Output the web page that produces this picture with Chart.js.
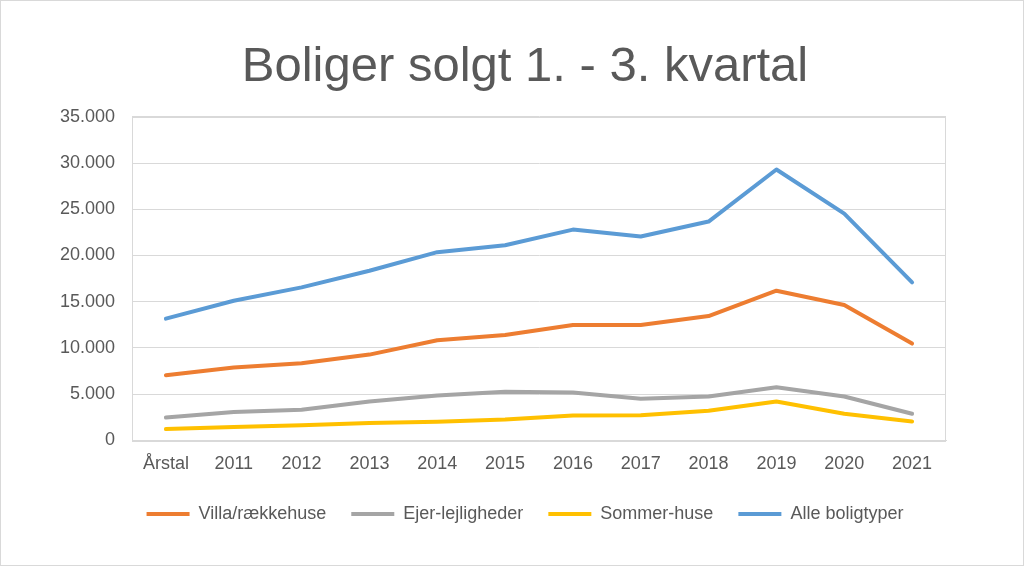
<!DOCTYPE html>
<html>
<head>
<meta charset="utf-8">
<script src="https://cdn.jsdelivr.net/npm/chart.js@4/dist/chart.umd.min.js"></script>
<style>
html,body{margin:0;padding:0;background:#fff;}
#wrap{width:1024px;height:566px;box-sizing:border-box;border:1px solid #d9d9d9;position:relative;}
canvas{display:block;}
</style>
</head>
<body>
<div id="wrap"><canvas id="c" width="1022" height="564"></canvas></div>
<script>
const categories = ['Årstal','2011','2012','2013','2014','2015','2016','2017','2018','2019','2020','2021'];
const villa = [7050, 7880, 8350, 9280, 10830, 11400, 12480, 12480, 13450, 16190, 14640, 10470];
const ejer = [2480, 3060, 3310, 4210, 4860, 5250, 5180, 4500, 4750, 5760, 4750, 2880];
const sommer = [1220, 1440, 1650, 1870, 2010, 2250, 2700, 2730, 3200, 4210, 2880, 2050];
const alle = [13170, 15100, 16550, 18350, 20360, 21100, 22800, 22050, 23670, 29300, 24530, 17090];
const seriesNames = ['Villa/rækkehuse','Ejer-lejligheder','Sommer-huse','Alle boligtyper'];
const seriesColors = ['#ED7D31','#A5A5A5','#FFC000','#5B9BD5'];
const yTicks = [0,5000,10000,15000,20000,25000,30000,35000];

const fmt = v => String(v).replace(/\B(?=(\d{3})+(?!\d))/g, '.');
const FONT = "'Liberation Sans', Arial, sans-serif";
const TXT = '#595959';

const frame = {
  id: 'frame',
  beforeDatasetsDraw(chart){
    const a = chart.chartArea, ctx = chart.ctx;
    ctx.save();
    ctx.strokeStyle = '#d9d9d9';
    ctx.lineWidth = 1;
    ctx.strokeRect(Math.round(a.left)+0.5, Math.round(a.top)+0.5, Math.round(a.right-a.left)-1, Math.round(a.bottom-a.top));
    ctx.restore();
  }
};

const data = [villa, ejer, sommer, alle];
new Chart(document.getElementById('c'), {
  type: 'line',
  data: {
    labels: categories,
    datasets: data.map((d,i)=>({
      label: seriesNames[i],
      data: d,
      borderColor: seriesColors[i],
      backgroundColor: seriesColors[i],
      borderWidth: 4,
      pointRadius: 0,
      tension: 0,
      borderJoinStyle: 'round',
      borderCapStyle: 'round',
      fill: false
    }))
  },
  options: {
    responsive: false,
    animation: false,
    layout: { padding: { left: 26, right: 0, top: 0, bottom: 32 } },
    plugins: {
      title: {
        display: true,
        text: 'Boliger solgt 1. - 3. kvartal',
        color: TXT,
        font: { family: FONT, size: 49, weight: 'normal' },
        padding: { top: 37, bottom: 20 }
      },
      legend: {
        position: 'bottom',
        labels: {
          color: TXT,
          font: { family: FONT, size: 18 },
          boxWidth: 43,
          boxHeight: 4,
          padding: 25,
          generateLabels(chart){
            const items = Chart.defaults.plugins.legend.labels.generateLabels(chart);
            items.forEach(it=>{ it.lineWidth = 0; it.fillStyle = it.strokeStyle; });
            return items;
          }
        }
      },
      tooltip: { enabled: false }
    },
    scales: {
      x: {
        offset: true,
        grid: { display: false, drawTicks: false },
        border: { display: true, color: '#d9d9d9' },
        ticks: { color: TXT, font: { family: FONT, size: 18 }, padding: 13, maxRotation: 0 },
        afterFit(scale){ scale.height -= 8; }
      },
      y: {
        min: 0, max: 35000,
        afterBuildTicks(scale){ scale.ticks = yTicks.map(v=>({value:v})); },
        grid: { color: '#d9d9d9', drawTicks: false, lineWidth: 1 },
        border: { display: true, color: '#d9d9d9' },
        ticks: { color: TXT, font: { family: FONT, size: 18 }, padding: 17, callback: v => fmt(v) },
        afterFit(scale){ scale.width = 105; }
      },
      yRight: {
        position: 'right',
        min: 0, max: 1,
        grid: { display: false, drawTicks: false },
        border: { display: false },
        ticks: { display: false },
        afterFit(scale){ scale.width = 77; }
      }
    }
  },
  plugins: [frame]
});
</script>
</body>
</html>
